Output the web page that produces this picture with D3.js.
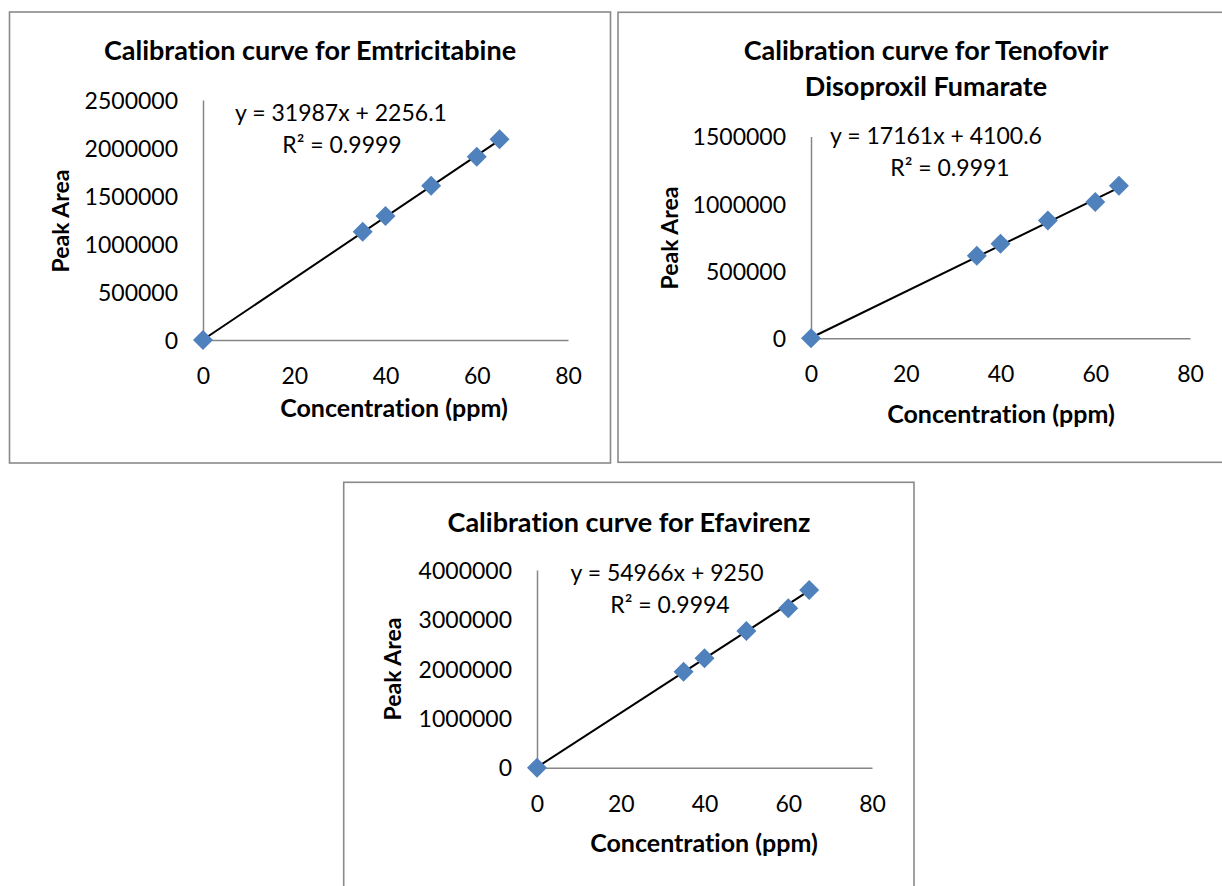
<!DOCTYPE html>
<html>
<head>
<meta charset="utf-8">
<script src="https://cdn.jsdelivr.net/npm/d3@7"></script>
<style>
  html, body { margin: 0; padding: 0; background: #ffffff; }
  svg { display: block; }
  text { font-family: Lato, "Open Sans", sans-serif; fill: #000; font-variant-ligatures: none; font-feature-settings: "liga" 0, "clig" 0; }
</style>
</head>
<body>
<svg id="chart" width="1222" height="886"></svg>
<script>
// ---------------- data ----------------
const concentrations = [0, 35, 40, 50, 60, 65];
const emtricitabineArea = [0, 1128000, 1292000, 1607000, 1909000, 2091000];
const tenofovirArea = [0, 613000, 702000, 875000, 1014000, 1133000];
const efavirenzArea = [0, 1943000, 2214000, 2767000, 3227000, 3597000];

const xTicks = [0, 20, 40, 60, 80];
const emtricitabineYTicks = [0, 500000, 1000000, 1500000, 2000000, 2500000];
const tenofovirYTicks = [0, 500000, 1000000, 1500000];
const efavirenzYTicks = [0, 1000000, 2000000, 3000000, 4000000];

const titles = [
  ["Calibration curve for Emtricitabine"],
  ["Calibration curve for Tenofovir", "Disoproxil Fumarate"],
  ["Calibration curve for Efavirenz"]
];
const slopes = [31987, 17161, 54966];
const intercepts = [2256.1, 4100.6, 9250];
const equationLabels = ["y = 31987x + 2256.1", "y = 17161x + 4100.6", "y = 54966x + 9250"];
const r2Labels = ["R² = 0.9999", "R² = 0.9991", "R² = 0.9994"];
const xTitle = "Concentration (ppm)";
const yTitle = "Peak Area";

// ---------------- layout ----------------
const panels = [
  { frame: [9.5, 12, 601, 451], plot: { l: 203, t: 100, r: 568, b: 340 },
    series: emtricitabineArea, yTicks: emtricitabineYTicks,
    titleX: 310, titleY: [60], eqX: 341, eqY: 121, r2X: 342, r2Y: 153,
    xTitleX: 394, xTitleY: 417, yTitleX: 61, yTitleY: 221 },
  { frame: [618, 12.3, 620, 450], plot: { l: 811, t: 136.5, r: 1190, b: 338.3 },
    series: tenofovirArea, yTicks: tenofovirYTicks,
    titleX: 926, titleY: [60, 96], eqX: 936, eqY: 144, r2X: 950, r2Y: 176,
    xTitleX: 1001, xTitleY: 423, yTitleX: 670, yTitleY: 238 },
  { frame: [343.7, 482.3, 570.3, 420], plot: { l: 537, t: 570, r: 872, b: 767.7 },
    series: efavirenzArea, yTicks: efavirenzYTicks,
    titleX: 629, titleY: [531.5], eqX: 667, eqY: 581, r2X: 670, r2Y: 613,
    xTitleX: 704, xTitleY: 852, yTitleX: 393, yTitleY: 669 }
];

const svg = d3.select("#chart");
const tickFont = 23;

panels.forEach((p, i) => {
  const g = svg.append("g");
  g.append("rect")
    .attr("x", p.frame[0]).attr("y", p.frame[1])
    .attr("width", p.frame[2]).attr("height", p.frame[3])
    .attr("fill", "#fff").attr("stroke", "#8a8a8a").attr("stroke-width", 1.6);

  const x = d3.scaleLinear().domain([0, 80]).range([p.plot.l, p.plot.r]);
  const yMax = p.yTicks[p.yTicks.length - 1];
  const y = d3.scaleLinear().domain([0, yMax]).range([p.plot.b, p.plot.t]);

  // axes
  const xAxis = d3.axisBottom(x).tickValues(xTicks).tickSize(0).tickPadding(0).tickFormat(d3.format("d"));
  const xg = g.append("g").attr("transform", `translate(0,${y(0)})`).call(xAxis);
  xg.select(".domain").attr("stroke", "#868686").attr("stroke-width", 1.5);
  xg.selectAll("text").attr("font-size", tickFont).attr("font-family", "Lato")
    .attr("fill", "#000").attr("dy", null).attr("y", 44);

  const yAxis = d3.axisLeft(y).tickValues(p.yTicks).tickSize(0).tickPadding(25).tickFormat(d3.format("d"));
  const yg = g.append("g").attr("transform", `translate(${x(0)},0)`).call(yAxis);
  yg.select(".domain").attr("stroke", "#868686").attr("stroke-width", 1.5);
  yg.selectAll("text").attr("font-size", tickFont).attr("font-family", "Lato")
    .attr("fill", "#000").attr("dy", "0.36em");

  // trendline
  const trend = [0, 65].map(c => [c, slopes[i] * c + intercepts[i]]);
  g.append("path")
    .attr("d", d3.line().x(d => x(d[0])).y(d => y(d[1]))(trend))
    .attr("stroke", "#000").attr("stroke-width", 2).attr("fill", "none");

  // markers
  const sym = d3.symbol().type(d3.symbolSquare).size(200);
  g.selectAll("path.pt").data(concentrations.map((c, k) => [c, p.series[k]]))
    .enter().append("path").attr("class", "pt")
    .attr("d", sym)
    .attr("transform", d => `translate(${x(d[0])},${y(d[1])}) rotate(45)`)
    .attr("fill", "#4F81BD");

  // titles
  titles[i].forEach((t, k) => {
    g.append("text").attr("x", p.titleX).attr("y", p.titleY[k])
      .attr("text-anchor", "middle").attr("font-size", 27).attr("font-weight", "bold").text(t);
  });
  g.append("text").attr("x", p.eqX).attr("y", p.eqY).attr("text-anchor", "middle")
    .attr("font-size", tickFont).text(equationLabels[i]);
  g.append("text").attr("x", p.r2X).attr("y", p.r2Y).attr("text-anchor", "middle")
    .attr("font-size", tickFont).text(r2Labels[i]);

  g.append("text").attr("x", p.xTitleX).attr("y", p.xTitleY).attr("text-anchor", "middle")
    .attr("font-size", 25).attr("font-weight", "bold").text(xTitle);
  g.append("text").attr("transform", `translate(${p.yTitleX},${p.yTitleY}) rotate(-90)`)
    .attr("text-anchor", "middle").attr("dy", "0.36em")
    .attr("font-size", 23).attr("font-weight", "bold").text(yTitle);
});
</script>
</body>
</html>
